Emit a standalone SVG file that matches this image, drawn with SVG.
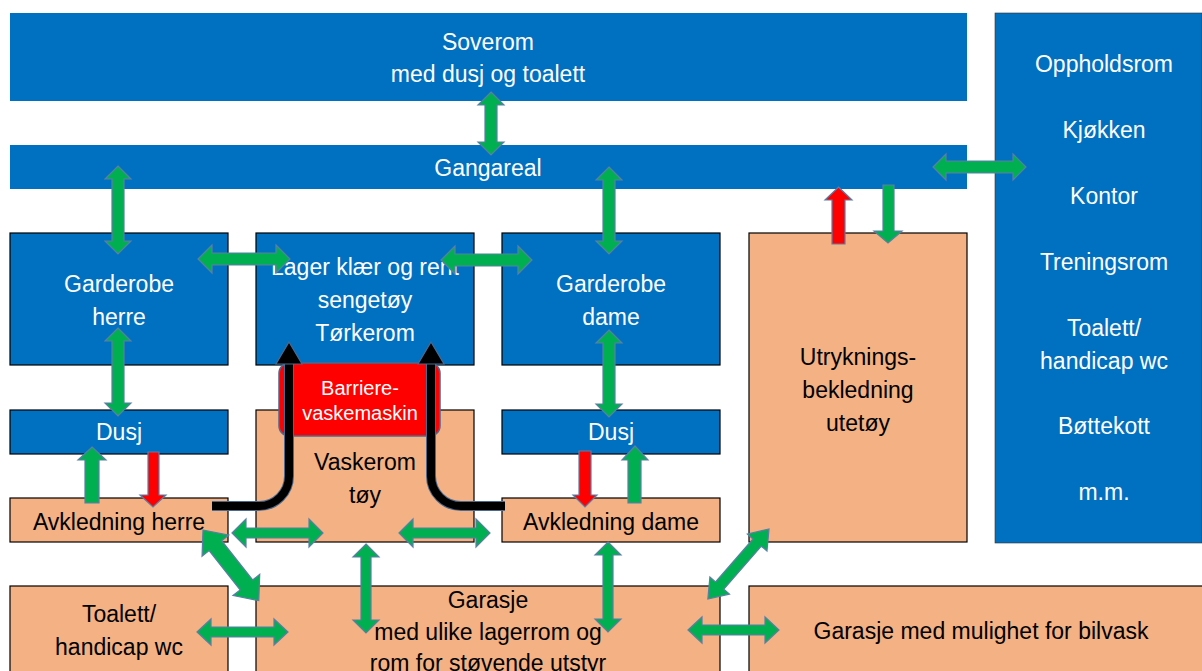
<svg xmlns="http://www.w3.org/2000/svg" width="1202" height="671" viewBox="0 0 1202 671">
<style>
.blue{fill:#0070C0;}
.bb{fill:#0070C0;stroke:#000;stroke-width:1.2;}
.peach{fill:#F4B183;stroke:#000;stroke-width:1.2;}
.tw{font-family:"Liberation Sans",Arial,sans-serif;font-size:23px;fill:#fff;text-anchor:middle;}
.tb{font-family:"Liberation Sans",Arial,sans-serif;font-size:23px;fill:#000;text-anchor:middle;}
.ts{font-family:"Liberation Sans",Arial,sans-serif;font-size:20px;fill:#fff;text-anchor:middle;}
.ga{fill:#00B050;stroke:#5A7EA6;stroke-width:1.2;stroke-linejoin:miter;}
.ra{fill:#FF0000;stroke:#5A7EA6;stroke-width:1.2;}
.blk{fill:none;stroke:#000;stroke-width:8;}
.blko{fill:none;stroke:#4A6A90;stroke-width:10;}
.bh{fill:#000;stroke:#4A6A90;stroke-width:1.2;}
</style>
<rect width="1202" height="671" fill="#fff"/>

<g id="soverom"><rect class="blue" x="10" y="13" width="957" height="88"/><text class="tw" x="488" y="50">Soverom</text><text class="tw" x="488" y="82">med dusj og toalett</text></g>
<g id="gangareal"><rect class="blue" x="10" y="145" width="957" height="44"/><text class="tw" x="488" y="176">Gangareal</text></g>
<g id="oppholdsrom"><rect class="blue" x="995" y="13" width="207" height="530" stroke="#333" stroke-width="0.6"/>
<text class="tw" x="1104" y="72">Oppholdsrom</text><text class="tw" x="1104" y="138">Kjøkken</text><text class="tw" x="1104" y="204">Kontor</text><text class="tw" x="1104" y="270">Treningsrom</text><text class="tw" x="1104" y="336">Toalett/</text><text class="tw" x="1104" y="369">handicap wc</text><text class="tw" x="1104" y="434">Bøttekott</text><text class="tw" x="1104" y="500">m.m.</text></g>
<g id="garderobe-herre"><rect class="bb" x="10" y="233" width="218" height="132"/><text class="tw" x="119" y="292">Garderobe</text><text class="tw" x="119" y="325">herre</text></g>
<g id="lager"><rect class="bb" x="256" y="233" width="218" height="132"/><text class="tw" x="365" y="275">Lager klær og rent</text><text class="tw" x="365" y="308">sengetøy</text><text class="tw" x="365" y="341">Tørkerom</text></g>
<g id="garderobe-dame"><rect class="bb" x="502" y="233" width="218" height="132"/><text class="tw" x="611" y="292">Garderobe</text><text class="tw" x="611" y="325">dame</text></g>
<g id="utryknings"><rect class="peach" x="749" y="233" width="218" height="309"/><text class="tb" x="858" y="365">Utryknings-</text><text class="tb" x="858" y="398">bekledning</text><text class="tb" x="858" y="431">utetøy</text></g>
<g id="dusj-herre"><rect class="bb" x="10" y="410" width="218" height="44"/><text class="tw" x="119" y="440">Dusj</text></g>
<g id="dusj-dame"><rect class="bb" x="502" y="410" width="218" height="44"/><text class="tw" x="611" y="440">Dusj</text></g>
<g id="vaskerom"><rect class="peach" x="256" y="410" width="218" height="132"/><text class="tb" x="365" y="470">Vaskerom</text><text class="tb" x="365" y="503">tøy</text></g>
<g id="avkledning-herre"><rect class="peach" x="10" y="498" width="218" height="44"/><text class="tb" x="119" y="530">Avkledning herre</text></g>
<g id="avkledning-dame"><rect class="peach" x="502" y="498" width="218" height="44"/><text class="tb" x="611" y="530">Avkledning dame</text></g>
<g id="toalett"><rect class="peach" x="10" y="586" width="218" height="95"/><text class="tb" x="119" y="622">Toalett/</text><text class="tb" x="119" y="655">handicap wc</text></g>
<g id="garasje"><rect class="peach" x="256" y="586" width="464" height="95"/><text class="tb" x="488" y="608">Garasje</text><text class="tb" x="488" y="640">med ulike lagerrom og</text><text class="tb" x="488" y="671">rom for støvende utstyr</text></g>
<g id="garasje-bilvask"><rect class="peach" x="749" y="586" width="460" height="95"/><text class="tb" x="981" y="639">Garasje med mulighet for bilvask</text></g>
<g id="barriere"><rect x="279" y="363" width="161" height="73" rx="10" fill="#FF0000" stroke="#4A6A90" stroke-width="1.5"/><text class="ts" x="360" y="395">Barriere-</text><text class="ts" x="360" y="420">vaskemaskin</text></g>

<g id="connectors">
<path class="blko" d="M212,506 H259 A30,30 0 0 0 289,476 V362"/>
<path class="blk" d="M212,506 H259 A30,30 0 0 0 289,476 V362"/>
<polygon class="bh" points="289,342 302,364 276,364"/>
<path class="blko" d="M505,506 H461 A30,30 0 0 1 431,476 V362"/>
<path class="blk" d="M505,506 H461 A30,30 0 0 1 431,476 V362"/>
<polygon class="bh" points="431,342 444,364 418,364"/>

<polygon class="ga" points="491,92 504,105 497,105 497,142 504,142 491,155 478,142 485,142 485,105 478,105"/>
<polygon class="ga" points="118,166 131,179 124,179 124,241 131,241 118,254 105,241 112,241 112,179 105,179"/>
<polygon class="ga" points="609,167 622,180 615,180 615,241 622,241 609,254 596,241 603,241 603,180 596,180"/>
<polygon class="ga" points="933,167 946,154 946,161 1013,161 1013,154 1026,167 1013,180 1013,173 946,173 946,180"/>
<polygon class="ga" points="198,259 212,245 212,253 276,253 276,245 290,259 276,273 276,265 212,265 212,273"/>
<polygon class="ga" points="441,260 455,246 455,254 518,254 518,246 532,260 518,274 518,266 455,266 455,274"/>
<polygon class="ga" points="118,328 131,341 124,341 124,403 131,403 118,416 105,403 112,403 112,341 105,341"/>
<polygon class="ga" points="609,330 622,343 615,343 615,404 622,404 609,417 596,404 603,404 603,343 596,343"/>
<polygon class="ra" points="838.5,187 852,200 845,200 845,244 832,244 832,200 825,200"/>
<polygon class="ga" points="883,185 894,185 894,231 902,231 888,243 874,231 883,231"/>
<polygon class="ga" points="92,447 106,460 99,460 99,503 85,503 85,460 78,460"/>
<polygon class="ra" points="148,452 159,452 159,495 166,495 153,507 140,495 148,495"/>
<polygon class="ra" points="579,451 591,451 591,495 597,495 585,507 573,495 579,495"/>
<polygon class="ga" points="635,446 648,460 641,460 641,503 628,503 628,460 622,460"/>
<polygon class="ga" points="232,533 246,519 246,528 309,528 309,519 323,533 309,547 309,538 246,538 246,547"/>
<polygon class="ga" points="399,533 413,519 413,528 476,528 476,519 490,533 476,547 476,538 413,538 413,547"/>
<polygon class="ga" transform="translate(203,530) rotate(51.7)" points="0,0 20,-17 20,-8 70,-8 70,-17 90,0 70,17 70,8 20,8 20,17"/>
<polygon class="ga" transform="translate(769,529) rotate(131.1)" points="0,0 18,-13 18,-5.5 75,-5.5 75,-13 93,0 75,13 75,5.5 18,5.5 18,13"/>
<polygon class="ga" points="366,544 379,557 371,557 371,620 379,620 366,633 353,620 361,620 361,557 353,557"/>
<polygon class="ga" points="608,542 621,555 613,555 613,619 621,619 608,632 595,619 603,619 603,555 595,555"/>
<polygon class="ga" points="197,632 211,619 211,627 274,627 274,619 288,632 274,645 274,637 211,637 211,645"/>
<polygon class="ga" points="688,630 702,617 702,625 765,625 765,617 779,630 765,643 765,635 702,635 702,643"/>
</g>
</svg>
